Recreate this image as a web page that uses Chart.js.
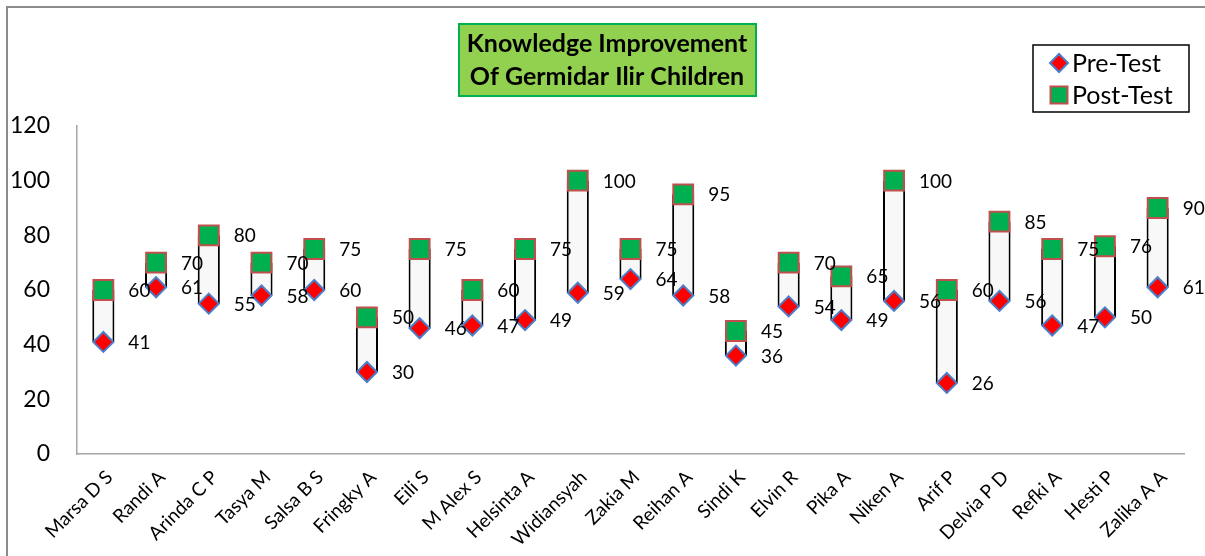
<!DOCTYPE html>
<html>
<head>
<meta charset="utf-8">
<script src="https://cdn.jsdelivr.net/npm/chart.js@4.4.0/dist/chart.umd.min.js"></script>
<style>
  html, body { margin: 0; padding: 0; background: #fff; }
</style>
</head>
<body>
<canvas id="chart" width="1205" height="556"></canvas>
<script>
// values
const children = ['Marsa D S', 'Randi A', 'Arinda C P', 'Tasya M', 'Salsa B S', 'Fringky A', 'Eili S',
    'M Alex S', 'Helsinta A', 'Widiansyah', 'Zakia M', 'Reihan A', 'Sindi K', 'Elvin R', 'Pika A',
    'Niken A', 'Arif P', 'Delvia P D', 'Refki A', 'Hesti P', 'Zalika A A'];
const preTest = [41, 61, 55, 58, 60, 30, 46, 47, 49, 59, 64, 58, 36, 54, 49, 56, 26, 56, 47, 50, 61];
const postTest = [60, 70, 80, 70, 75, 50, 75, 60, 75, 100, 75, 95, 45, 70, 65, 100, 60, 85, 75, 76, 90];
const yTicks = [0, 20, 40, 60, 80, 100, 120];
const titleLines = ['Knowledge Improvement', 'Of Germidar Ilir Children'];
const legendNames = ['Pre-Test', 'Post-Test'];

const FONT = "Lato, 'Noto Sans', sans-serif";
const preStyle = { shape: 'rectRot', fill: '#FF0000', border: '#4A7EC8', radius: 10 };
const postStyle = { shape: 'rect', fill: '#00B050', border: '#C0504D', radius: 14 };

// up bars between pre and post
var ranges = preTest.map(function(v, i) { return [v, postTest[i]]; });

var decorPlugin = {
    id: 'decor',
    beforeDraw: function(chart) {
        var ctx = chart.ctx;
        ctx.save();
        ctx.fillStyle = '#fff';
        ctx.fillRect(0, 0, chart.width, chart.height);
        // chart area frame (runs off the right/bottom edge)
        ctx.strokeStyle = '#8C8C8C';
        ctx.lineWidth = 2;
        ctx.strokeRect(7, 7, chart.width + 20, chart.height + 20);
        ctx.restore();
    },
    afterDatasetsDraw: function(chart) {
        var ctx = chart.ctx;
        ctx.save();
        ctx.font = '19px ' + FONT;
        ctx.fillStyle = '#000';
        ctx.textAlign = 'left';
        ctx.textBaseline = 'middle';
        [1, 2].forEach(function(di) {
            var meta = chart.getDatasetMeta(di);
            var data = chart.data.datasets[di].data;
            meta.data.forEach(function(pt, i) {
                ctx.fillText(String(data[i]), pt.x + 25, pt.y + 1);
            });
        });
        ctx.restore();
    },
    afterDraw: function(chart) {
        var ctx = chart.ctx;
        ctx.save();
        // title box
        ctx.fillStyle = '#92D050';
        ctx.fillRect(459, 24, 297, 72);
        ctx.strokeStyle = '#00B050';
        ctx.lineWidth = 2;
        ctx.strokeRect(459, 24, 297, 72);
        ctx.fillStyle = '#000';
        ctx.font = 'bold 25px ' + FONT;
        ctx.textAlign = 'center';
        ctx.textBaseline = 'middle';
        ctx.fillText(titleLines[0], 607, 44);
        ctx.fillText(titleLines[1], 607, 77);

        // legend
        ctx.strokeStyle = '#000';
        ctx.lineWidth = 1.5;
        ctx.strokeRect(1033, 45, 156, 67);
        [preStyle, postStyle].forEach(function(s, i) {
            var cy = i === 0 ? 63 : 95;
            ctx.fillStyle = s.fill;
            ctx.strokeStyle = s.border;
            ctx.lineWidth = 2;
            Chart.helpers.drawPoint(ctx, { pointStyle: s.shape, radius: i === 0 ? 9 : 12, borderWidth: 2 }, 1059, cy);
            ctx.fillStyle = '#000';
            ctx.font = '25px ' + FONT;
            ctx.textAlign = 'left';
            ctx.textBaseline = 'middle';
            ctx.fillText(legendNames[i], 1072, cy + 1);
        });
        ctx.restore();
    }
};

new Chart(document.getElementById('chart'), {
    data: {
        labels: children,
        datasets: [{
            type: 'bar',
            label: 'range',
            data: ranges,
            backgroundColor: '#F8F8F8',
            borderColor: '#000',
            borderWidth: { left: 2, right: 2, top: 0, bottom: 0 },
            borderSkipped: false,
            categoryPercentage: 1,
            barPercentage: 0.42,
            order: 3
        }, {
            type: 'line',
            label: legendNames[0],
            data: preTest,
            showLine: false,
            pointStyle: preStyle.shape,
            pointRadius: preStyle.radius,
            pointBackgroundColor: preStyle.fill,
            pointBorderColor: preStyle.border,
            pointBorderWidth: 2,
            order: 1
        }, {
            type: 'line',
            label: legendNames[1],
            data: postTest,
            showLine: false,
            pointStyle: postStyle.shape,
            pointRadius: postStyle.radius,
            pointBackgroundColor: postStyle.fill,
            pointBorderColor: postStyle.border,
            pointBorderWidth: 2,
            order: 2
        }]
    },
    options: {
        responsive: false,
        animation: false,
        devicePixelRatio: 1,
        layout: { padding: { left: 12, right: 21, top: 126, bottom: 0 } },
        plugins: {
            legend: { display: false },
            tooltip: { enabled: false }
        },
        scales: {
            x: {
                type: 'category',
                grid: { display: false },
                border: { display: true, color: '#A6A6A6', width: 1.5 },
                ticks: {
                    autoSkip: false,
                    maxRotation: 45,
                    minRotation: 45,
                    color: '#000',
                    font: { family: FONT, size: 19 },
                    padding: 4,
                    labelOffset: 6
                },
                afterFit: function(scale) { scale.height = 102; }
            },
            y: {
                min: 0,
                max: 120,
                grid: { display: false, drawTicks: false },
                border: { display: true, color: '#A6A6A6', width: 1.5 },
                ticks: {
                    crossAlign: 'near',
                    padding: 27,
                    color: '#000',
                    font: { family: FONT, size: 23 }
                },
                afterBuildTicks: function(scale) {
                    scale.ticks = yTicks.map(function(v) { return { value: v }; });
                },
                afterFit: function(scale) { scale.width = 65; }
            }
        }
    },
    plugins: [decorPlugin]
});
</script>
</body>
</html>
